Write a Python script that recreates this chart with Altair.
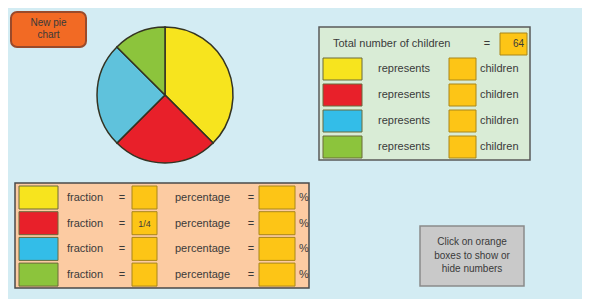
import altair as alt
import pandas as pd

# ---------------- data ----------------
categories = ["yellow", "red", "blue", "green"]
children = [24, 16, 16, 8]
total_children = 64
pie_colors = ["#f7e41e", "#e8202a", "#5fc2dc", "#8cc43c"]
swatch_colors = ["#f7e41e", "#e8202a", "#33bde8", "#8cc43c"]
fraction_labels = ["", "1/4", "", ""]
percentage_labels = ["", "", "", ""]
children_labels = ["", "", "", ""]
button_lines = ["New pie", "chart"]
hint_lines = ["Click on orange", "boxes to show or", "hide numbers"]

# ---------------- layout ----------------
OFF = 8
W, H = 574, 291
BG = "#d3ecf3"
ORANGE = "#fdc516"
ORANGE_EDGE = "#a8861a"
FONT = "Liberation Sans"
TXT = "#3a3a3a"

xs = alt.Scale(domain=[OFF, OFF + W], nice=False, zero=False)
ys = alt.Scale(domain=[OFF, OFF + H], nice=False, zero=False, reverse=True)

rects, texts_left, texts_center, texts_right = [], [], [], []


def R(x, x2, y, y2, fill, stroke="none", sw=0):
    rects.append(dict(x=x, x2=x2, y=y, y2=y2, fill=fill, stroke=stroke, sw=sw))


def T(lst, x, y, t, size=11):
    lst.append(dict(x=x, y=y, t=t, size=size))


# top-right panel
R(319, 530, 27, 160, "#d9ecd6", "#5a5a5a", 1.5)
T(texts_left, 333, 44, "Total number of children")
T(texts_center, 487, 44, "=")
R(500, 527, 33, 55, ORANGE, ORANGE_EDGE, 1)
T(texts_right, 524, 44, str(total_children), 10)
for i, c in enumerate(categories):
    top = 58 + i * 26
    R(323, 362, top, top + 22, swatch_colors[i], "#6a6a3a", 1)
    T(texts_center, 404, top + 11, "represents")
    R(449, 476, top, top + 22, ORANGE, ORANGE_EDGE, 1)
    T(texts_center, 462, top + 11, children_labels[i], 9)
    T(texts_left, 480, top + 11, "children")

# bottom-left panel
R(15, 309, 183, 288, "#fccba2", "#4a4a4a", 1.5)
for i, c in enumerate(categories):
    top = 186 + i * 25.7
    R(19, 58, top, top + 23, swatch_colors[i], "#6a6a3a", 1)
    T(texts_left, 67, top + 12, "fraction")
    T(texts_center, 122, top + 12, "=")
    R(132, 157, top, top + 23, ORANGE, ORANGE_EDGE, 1)
    T(texts_center, 144.5, top + 12, fraction_labels[i], 9)
    T(texts_left, 175, top + 12, "percentage")
    T(texts_center, 251, top + 12, "=")
    R(259, 295, top, top + 23, ORANGE, ORANGE_EDGE, 1)
    T(texts_center, 277, top + 12, percentage_labels[i], 9)
    T(texts_left, 299, top + 12, "%")

# hint box
R(420, 524, 226, 286, "#c9c9c9", "#8a8a8a", 1.5)
for j, line in enumerate(hint_lines):
    T(texts_center, 472, 242 + j * 13.5, line, 10)

# button
button = pd.DataFrame([dict(x=11, x2=86, y=12, y2=47)])
for j, line in enumerate(button_lines):
    T(texts_center, 48.5, 23 + j * 12, line, 10)

pie = pd.DataFrame(dict(cat=categories, children=children, color=pie_colors,
                        order=list(range(len(categories))),
                        cx=[165] * 4, cy=[95] * 4))

rect_df = pd.DataFrame(rects)


def rect_layer(df, **mk):
    return alt.Chart(df).mark_rect(**mk).encode(
        x=alt.X("x:Q", scale=xs, axis=None),
        x2="x2:Q",
        y=alt.Y("y:Q", scale=ys, axis=None),
        y2="y2:Q",
    )


rect_layer_main = alt.Chart(rect_df).mark_rect().encode(
    x=alt.X("x:Q", scale=xs, axis=None),
    x2="x2:Q",
    y=alt.Y("y:Q", scale=ys, axis=None),
    y2="y2:Q",
    fill=alt.Fill("fill:N", scale=None),
    stroke=alt.Stroke("stroke:N", scale=None),
    strokeWidth=alt.StrokeWidth("sw:Q", scale=None),
)

button_layer = alt.Chart(button).mark_rect(
    fill="#f26a24", stroke="#9a4a2a", strokeWidth=2, cornerRadius=6
).encode(
    x=alt.X("x:Q", scale=xs, axis=None),
    x2="x2:Q",
    y=alt.Y("y:Q", scale=ys, axis=None),
    y2="y2:Q",
)

pie_layer = alt.Chart(pie).mark_arc(radius=68, stroke="#333322", strokeWidth=1.5).encode(
    theta=alt.Theta("children:Q", stack=True),
    order=alt.Order("order:Q"),
    fill=alt.Fill("color:N", scale=None),
    x=alt.X("cx:Q", scale=xs, axis=None),
    y=alt.Y("cy:Q", scale=ys, axis=None),
)


def text_layer(lst, align):
    df = pd.DataFrame(lst)
    return alt.Chart(df).mark_text(align=align, baseline="middle", font=FONT, color=TXT).encode(
        x=alt.X("x:Q", scale=xs, axis=None),
        y=alt.Y("y:Q", scale=ys, axis=None),
        text="t:N",
        size=alt.Size("size:Q", scale=None),
    )


chart = alt.layer(
    rect_layer_main,
    button_layer,
    pie_layer,
    text_layer(texts_left, "left"),
    text_layer(texts_center, "center"),
    text_layer(texts_right, "right"),
).properties(
    width=W, height=H, background=BG, padding=0,
    autosize=alt.AutoSizeParams(type="none"),
).configure_view(strokeWidth=0, fill=BG)

chart.save("out.html", embed_options={"renderer": "svg", "actions": False})
